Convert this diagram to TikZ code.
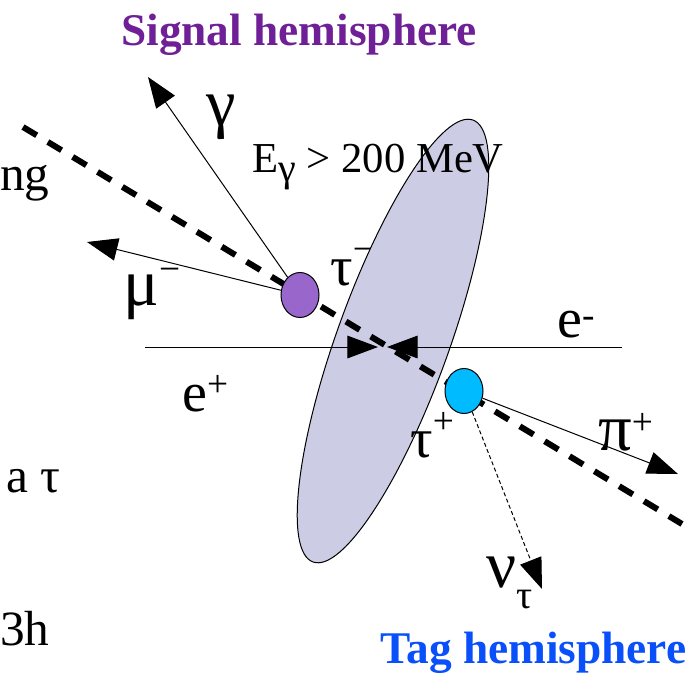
\documentclass[tikz,border=0pt]{standalone}
\usepackage{fontspec}
\setmainfont{Liberation Serif}
\usetikzlibrary{arrows.meta,shapes.geometric}
\definecolor{sigpurple}{RGB}{112,32,150}
\definecolor{tagblue}{RGB}{10,80,250}
\definecolor{elfill}{RGB}{204,204,228}
\definecolor{taupurple}{RGB}{153,102,204}
\definecolor{taublue}{RGB}{0,187,255}
\newcommand{\SupT}[2][13pt]{\raisebox{#1}{\fontsize{28}{28}\selectfont #2}}
\newcommand{\SubT}[2][-15pt]{\raisebox{#1}{\fontsize{30}{30}\selectfont #2}}
\newcommand{\BigG}[1]{{\fontsize{50}{50}\selectfont #1}}
\begin{document}
\begin{tikzpicture}[x=0.75pt,y=-0.75pt,
  lbl/.style={anchor=base west, inner sep=0pt, font=\fontsize{42}{50}\selectfont},
  side/.style={anchor=base west, inner sep=0pt, font=\fontsize{37}{44}\selectfont},
  cut/.style={anchor=base west, inner sep=0pt, font=\fontsize{32}{38}\selectfont},
  hemi/.style={anchor=base west, inner sep=0pt, font=\fontsize{34}{40}\selectfont\bfseries},
  arr/.style={line width=0.75pt, -{Triangle[length=23pt,width=17pt]}},
  track/.style={line width=4.5pt, dash pattern=on 12pt off 9.75pt},
  vertex/.style={ellipse, draw, line width=0.75pt, inner sep=0pt, minimum width=28.5pt, minimum height=33.75pt}]
\useasboundingbox (0,0) rectangle (700,672);

% label partly covered by the disk
\node[lbl] (tauminus) at (330,285) {τ\SupT[18pt]{−}};

% interaction disk
\node[ellipse, draw, fill=elfill, line width=0.75pt, inner sep=0pt,
      minimum width=352.5pt, minimum height=84pt, rotate=70.1] (disk) at (393,341) {};

% tau track
\coordinate (trackA) at (23,127);
\coordinate (trackB) at (682,524);
\draw[track] (trackA) -- (trackB);

% decay vertices
\node[vertex, fill=taupurple] (sig) at (300,295) {};
\node[vertex, fill=taublue] (tag) at (464,391) {};

% beams
\coordinate (epstart) at (145,347);
\coordinate (eptip) at (378,347);
\coordinate (emstart) at (622,347);
\coordinate (emtip) at (387,347);
\draw[arr] (epstart) -- (eptip);
\draw[arr] (emstart) -- (emtip);

% decay products
\coordinate (gtip) at (148,77);
\coordinate (mutip) at (87,242);
\coordinate (pitip) at (678,474);
\coordinate (nutip) at (542,589);
\draw[arr] (sig) -- (gtip);
\draw[arr] (sig) -- (mutip);
\draw[arr] (tag) -- (pitip);
\draw[arr, dash pattern=on 3pt off 2pt] (tag) -- (nutip);

% labels
\node[lbl] (gam) at (206,125) {\BigG{γ}};
\node[cut] (ecut) at (252,172) {E\SubT[-7pt]{γ} > 200 MeV};
\node[lbl] (mu) at (123,305) {\BigG{μ}\SupT[18pt]{−}};
\node[lbl] (em) at (557,337) {e\SupT[7pt]{-}};
\node[lbl] (ep) at (182,411) {e\SupT[11pt]{+}};
\node[lbl] (tauplus) at (410,457) {τ\SupT[18pt]{+}};
\node[lbl] (pip) at (598,450) {\BigG{π}\SupT[12pt]{+}};
\node[lbl] (nu) at (486,587) {\BigG{ν}\SubT[-16pt]{τ}};

% cut-off slide text on the left
\node[side] (ng) at (0,190) {ng};
\node[side] (atau) at (6,492) {a τ};
\node[side] (threeh) at (0,645) {3h};

% hemisphere titles
\node[hemi, text=sigpurple] (sigtitle) at (121,45) {Signal hemisphere};
\node[hemi, text=tagblue] (tagtitle) at (380,663) {Tag hemisphere};
\end{tikzpicture}
\end{document}
